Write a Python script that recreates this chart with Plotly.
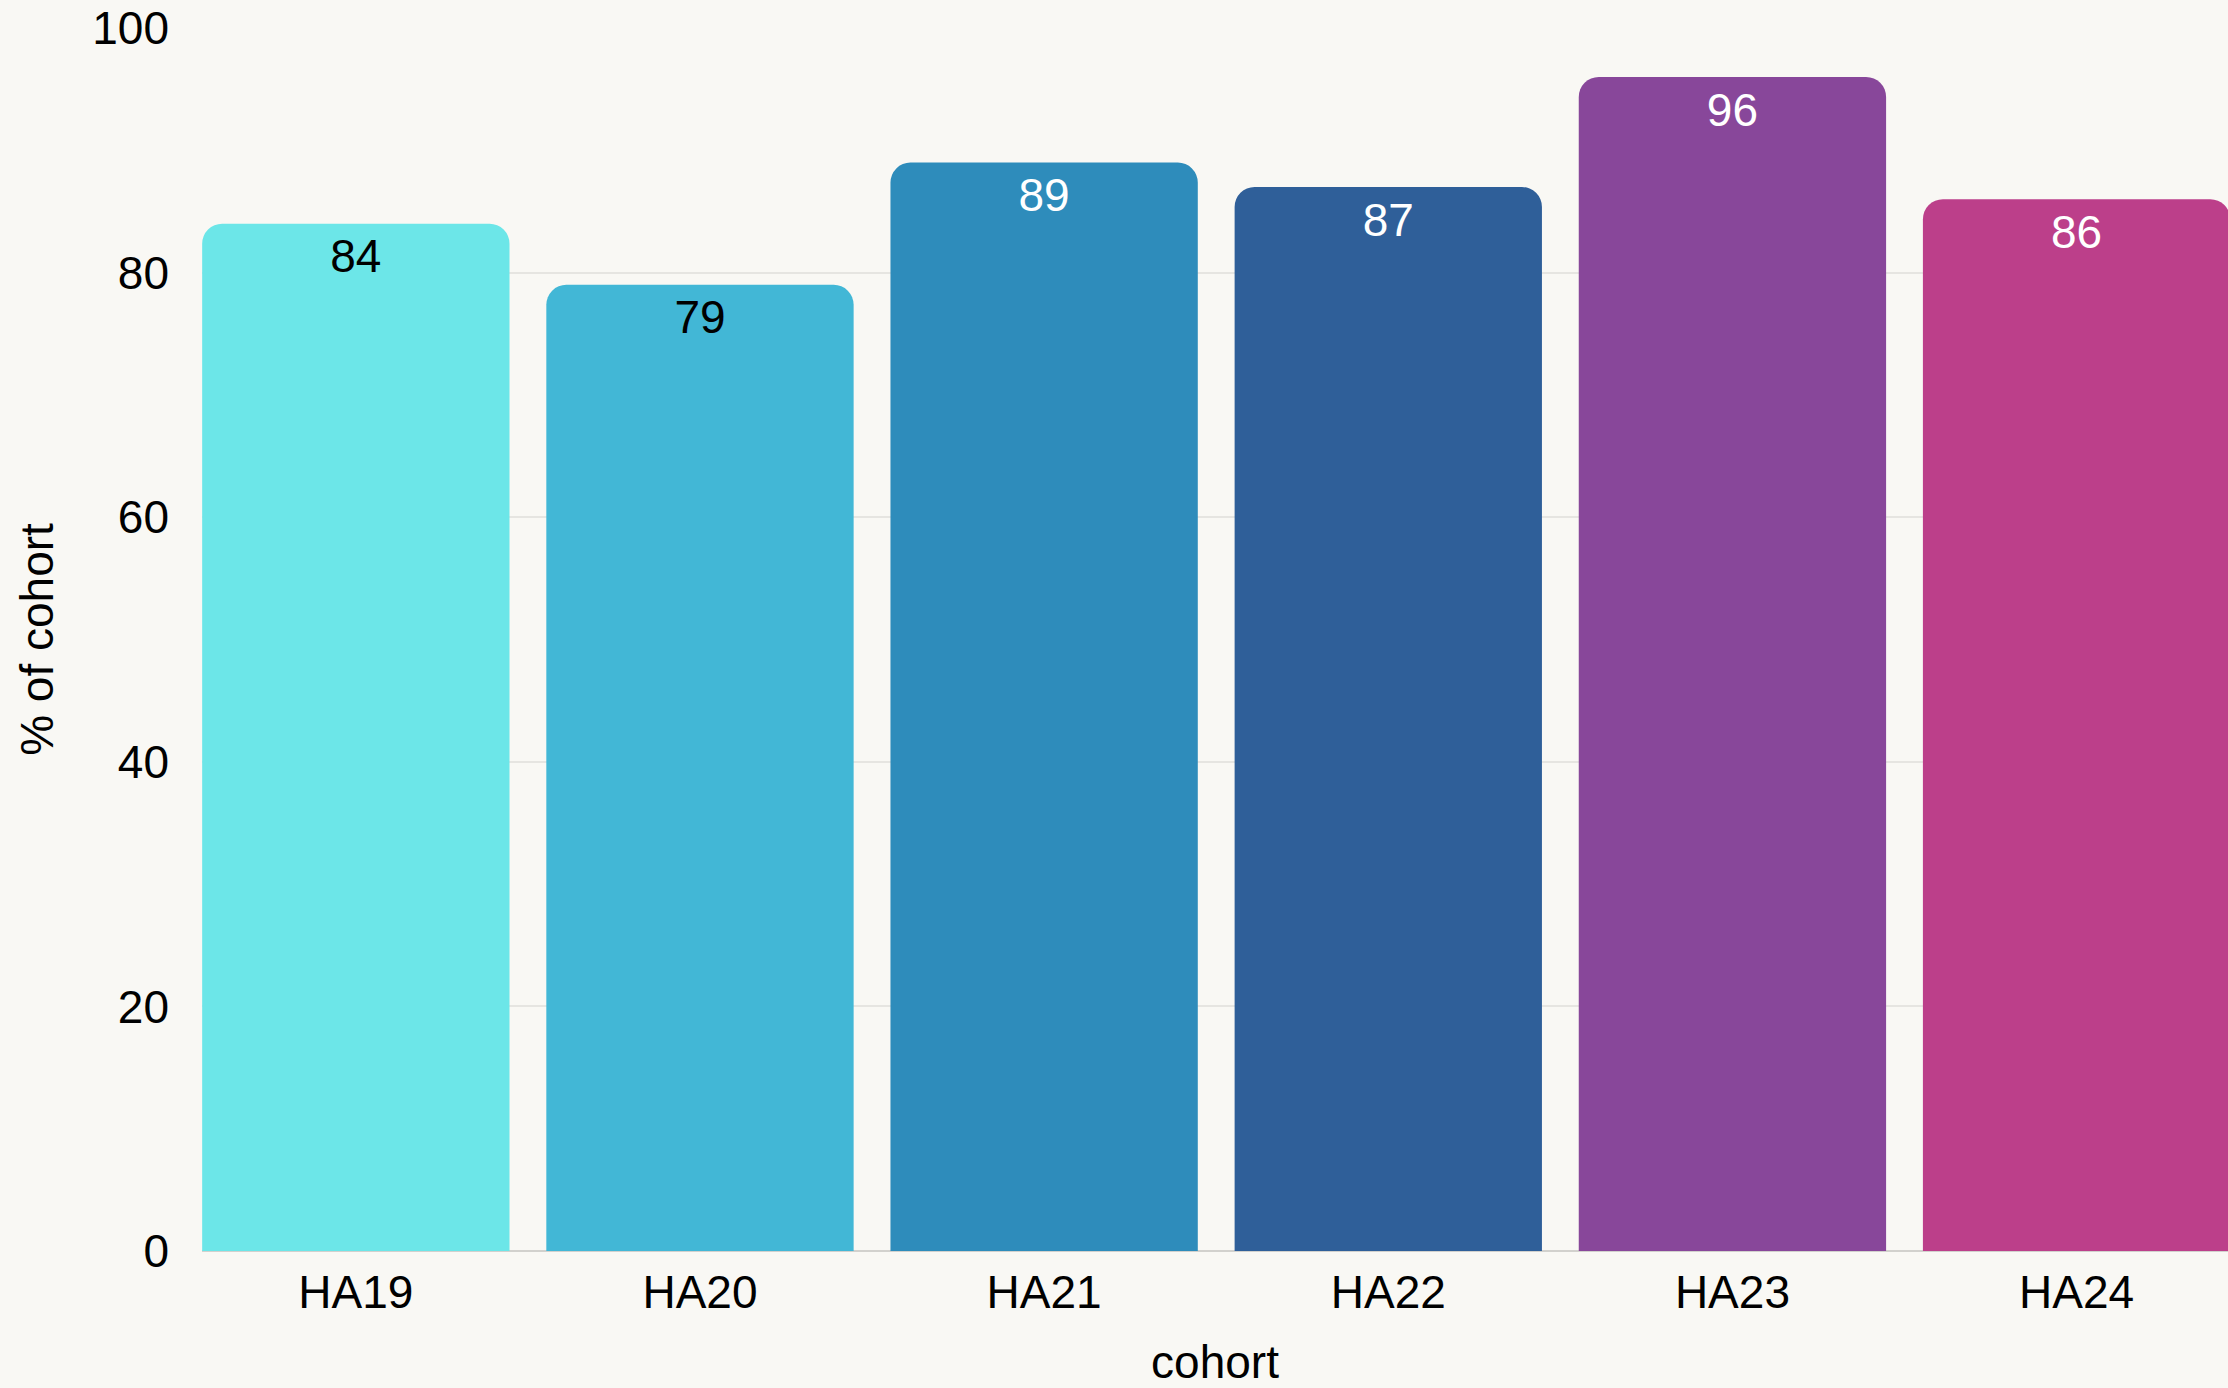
import plotly.graph_objects as go

cohorts = ["HA19", "HA20", "HA21", "HA22", "HA23", "HA24"]
pct = [84, 79, 89, 87, 96, 86]
colors = ["#6CE6E8", "#42B7D6", "#2E8CBB", "#2F5F99", "#88479A", "#BC3F8A"]
text_colors = ["#000000", "#000000", "#ffffff", "#ffffff", "#ffffff", "#ffffff"]
y_ticks = [0, 20, 40, 60, 80, 100]

FONT = "Liberation Sans, Arial, Helvetica, sans-serif"
BG = "#F9F8F4"

fig = go.Figure()
fig.add_trace(
    go.Bar(
        x=cohorts,
        y=pct,
        marker=dict(color=colors, cornerradius=20, line=dict(width=0)),
        hoverinfo="x+y",
    )
)
fig.add_trace(
    go.Scatter(
        x=cohorts,
        y=pct,
        mode="markers+text",
        marker=dict(size=21, color="rgba(0,0,0,0)"),
        text=[str(v) for v in pct],
        textposition="bottom center",
        textfont=dict(family=FONT, size=46, color=text_colors),
        hoverinfo="skip",
    )
)

fig.update_layout(
    width=2228,
    height=1388,
    margin=dict(l=202, r=0, t=28, b=137),
    paper_bgcolor=BG,
    plot_bgcolor=BG,
    bargap=0.107,
    font=dict(family=FONT, size=46, color="#000000"),
    showlegend=False,
)
fig.update_xaxes(
    range=[-0.447, 5.44],
    title=dict(text="cohort", font=dict(size=46), standoff=31),
    tickfont=dict(size=46),
    showgrid=False,
    showline=False,
    ticks="",
    ticklabelstandoff=10,
)
fig.update_yaxes(
    range=[0, 100],
    tickvals=y_ticks,
    title=dict(text="% of cohort", font=dict(size=46), standoff=24),
    tickfont=dict(size=46),
    showgrid=True,
    gridcolor="#E6E5E1",
    gridwidth=2,
    zeroline=True,
    zerolinecolor="#D2D1CD",
    zerolinewidth=2,
    showline=False,
    ticks="",
    ticklabelstandoff=32,
)

fig.write_html(
    "out.html",
    config={"displayModeBar": False},
    post_script="document.body.style.margin='0';document.body.style.background='" + BG + "';",
)
